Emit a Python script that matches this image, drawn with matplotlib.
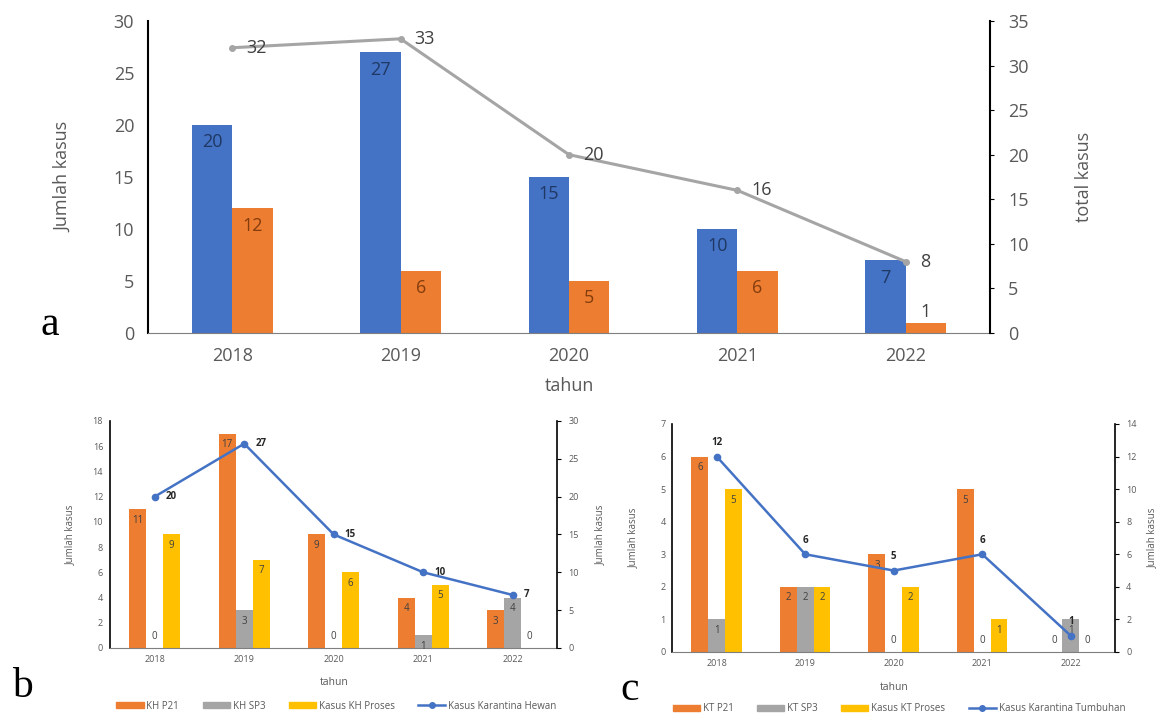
import matplotlib
matplotlib.use('Agg')
import matplotlib.pyplot as plt
from matplotlib.patches import Patch
from matplotlib.lines import Line2D
import numpy as np

years = ['2018', '2019', '2020', '2021', '2022']

# panel a : hewan vs tumbuhan, total on right axis
hewan = [20, 27, 15, 10, 7]
tumbuhan = [12, 6, 5, 6, 1]
total = [32, 33, 20, 16, 8]

# panel b : karantina hewan
kh_p21 = [11, 17, 9, 4, 3]
kh_sp3 = [0, 3, 0, 1, 4]
kh_proses = [9, 7, 6, 5, 0]
kh_total = [20, 27, 15, 10, 7]

# panel c : karantina tumbuhan
kt_p21 = [6, 2, 3, 5, 0]
kt_sp3 = [1, 2, 0, 0, 1]
kt_proses = [5, 2, 2, 1, 0]
kt_total = [12, 6, 5, 6, 1]

BLUE = '#4472C4'
ORANGE = '#ED7D31'
GRAY = '#A5A5A5'
YELLOW = '#FFC000'
TICK = '#595959'

plt.rcParams['font.family'] = ['Open Sans', 'DejaVu Sans']

fig = plt.figure(figsize=(11.6, 7.19), dpi=100)
x = np.arange(len(years))


def bar_labels(ax, bars, vals, size, color, off=3, small=0):
    for b, v in zip(bars, vals):
        cx = b.get_x() + b.get_width() / 2
        if v == 0:
            ax.annotate(str(v), (cx, 0), xytext=(0, off), textcoords='offset points',
                        ha='center', va='bottom', fontsize=size, color=color)
        elif v <= small:
            # too short for an inside label, put it on top
            ax.annotate(str(v), (cx, v), xytext=(0, 1), textcoords='offset points',
                        ha='center', va='bottom', fontsize=size, color='#404040')
        else:
            ax.annotate(str(v), (cx, v), xytext=(0, -off), textcoords='offset points',
                        ha='center', va='top', fontsize=size, color=color)


def style(ax, ax2, fs, pad):
    for a in (ax, ax2):
        a.spines['top'].set_visible(False)
    ax.spines['right'].set_visible(False)
    ax2.spines['left'].set_visible(False)
    ax2.spines['bottom'].set_visible(False)
    ax.spines['left'].set_color('black')
    ax.spines['bottom'].set_color('#7f7f7f')
    ax2.spines['right'].set_color('black')
    ax.tick_params(axis='y', length=0, labelcolor=TICK, labelsize=fs, pad=pad)
    ax.tick_params(axis='x', length=0, labelcolor=TICK, labelsize=fs, pad=pad)
    ax2.tick_params(axis='y', length=3, color='black', labelcolor=TICK, labelsize=fs, pad=pad)
    ax.set_xlim(-0.5, 4.5)
    ax.set_xticks(x)
    ax.set_xticklabels(years)


# ---------------- panel a ----------------
axa = fig.add_axes([0.1276, 0.5369, 0.7258, 0.4339])
axa2 = axa.twinx()
w = 0.24
ba1 = axa.bar(x - w / 2, hewan, w, color=BLUE)
ba2 = axa.bar(x + w / 2, tumbuhan, w, color=ORANGE)
bar_labels(axa, ba1, hewan, 13, '#1F3864', off=6, small=2)
bar_labels(axa, ba2, tumbuhan, 13, '#843C0C', off=6, small=2)
axa.set_ylim(0, 30)
axa.set_yticks(range(0, 31, 5))
axa2.plot(x, total, color=GRAY, lw=2.2, marker='o', ms=4)
for xi, v in zip(x, total):
    axa2.annotate(str(v), (xi, v), xytext=(10, 0), textcoords='offset points',
                  ha='left', va='center', fontsize=13, color='#404040')
axa2.set_ylim(0, 35)
axa2.set_yticks(range(0, 36, 5))
style(axa, axa2, 13, 10)
axa.spines['left'].set_linewidth(1.5)
axa2.spines['right'].set_linewidth(1.5)
axa.set_xlabel('tahun', fontsize=13, color=TICK)
axa.xaxis.set_label_coords(0.5, -0.14)
axa.set_ylabel('Jumlah kasus', fontsize=13, color=TICK)
axa.yaxis.set_label_coords(-0.09, 0.5)
axa2.set_ylabel('total kasus', fontsize=13, color=TICK, rotation=90)
axa2.yaxis.set_label_coords(1.101, 0.5)


def sub_panel(rect, p21, sp3, proses, tot, ymax, ystep, y2max, y2step, line_pos, lab2x):
    ax = fig.add_axes(rect)
    ax2 = ax.twinx()
    w = 0.19
    b1 = ax.bar(x - w, p21, w, color=ORANGE)
    b2 = ax.bar(x, sp3, w, color=GRAY)
    b3 = ax.bar(x + w, proses, w, color=YELLOW)
    for bars, vals in ((b1, p21), (b2, sp3), (b3, proses)):
        bar_labels(ax, bars, vals, 7, '#404040', off=4)
    ax.set_ylim(0, ymax)
    ax.set_yticks(np.arange(0, ymax + 1, ystep))
    ax2.plot(x, tot, color=BLUE, lw=1.8, marker='o', ms=4.5)
    for xi, v in zip(x, tot):
        if line_pos == 'right':
            ax2.annotate(str(v), (xi, v), xytext=(8, 0), textcoords='offset points',
                         ha='left', va='center', fontsize=7, fontweight='bold', color='#262626')
        else:
            ax2.annotate(str(v), (xi, v), xytext=(0, 6), textcoords='offset points',
                         ha='center', va='bottom', fontsize=7, fontweight='bold', color='#262626')
    ax2.set_ylim(0, y2max)
    ax2.set_yticks(np.arange(0, y2max + 1, y2step))
    style(ax, ax2, 6.5, 5)
    ax.spines['left'].set_linewidth(1.2)
    ax2.spines['right'].set_linewidth(1.2)
    ax.set_xlabel('tahun', fontsize=7.5, color=TICK)
    ax.xaxis.set_label_coords(0.5, -0.13)
    ax.set_ylabel('Jumlah kasus', fontsize=7, color=TICK)
    ax.yaxis.set_label_coords(-0.075, 0.5)
    ax2.set_ylabel('Jumlah kasus', fontsize=7, color=TICK)
    ax2.yaxis.set_label_coords(lab2x, 0.5)
    handles = [Patch(color=ORANGE), Patch(color=GRAY), Patch(color=YELLOW),
               Line2D([], [], color=BLUE, lw=1.8, marker='o', ms=4)]
    return ax, handles


axb, hb = sub_panel([0.0948, 0.0988, 0.3858, 0.3157], kh_p21, kh_sp3, kh_proses, kh_total,
                    18, 2, 30, 5, 'right', 1.084)
fig.legend(hb, ['KH P21', 'KH SP3', 'Kasus KH Proses', 'Kasus Karantina Hewan'],
           loc='center', bbox_to_anchor=(0.29, 0.018), ncol=4, frameon=False,
           fontsize=7, handlelength=2.8, handleheight=0.6, columnspacing=2.4,
           handletextpad=0.3, labelcolor=TICK)

axc, hc = sub_panel([0.5797, 0.0932, 0.3815, 0.3171], kt_p21, kt_sp3, kt_proses, kt_total,
                    7, 1, 14, 2, 'above', 1.072)
fig.legend(hc, ['KT P21', 'KT SP3', 'Kasus KT Proses', 'Kasus Karantina Tumbuhan'],
           loc='center', bbox_to_anchor=(0.775, 0.014), ncol=4, frameon=False,
           fontsize=7, handlelength=2.8, handleheight=0.6, columnspacing=2.4,
           handletextpad=0.3, labelcolor=TICK)

# panel letters
for lbl, px, py in (('a', 0.043, 0.548), ('b', 0.019, 0.045), ('c', 0.543, 0.040)):
    fig.text(px, py, lbl, fontsize=30, family='Liberation Serif', ha='center', va='center')

fig.savefig('out.png', dpi=100)
